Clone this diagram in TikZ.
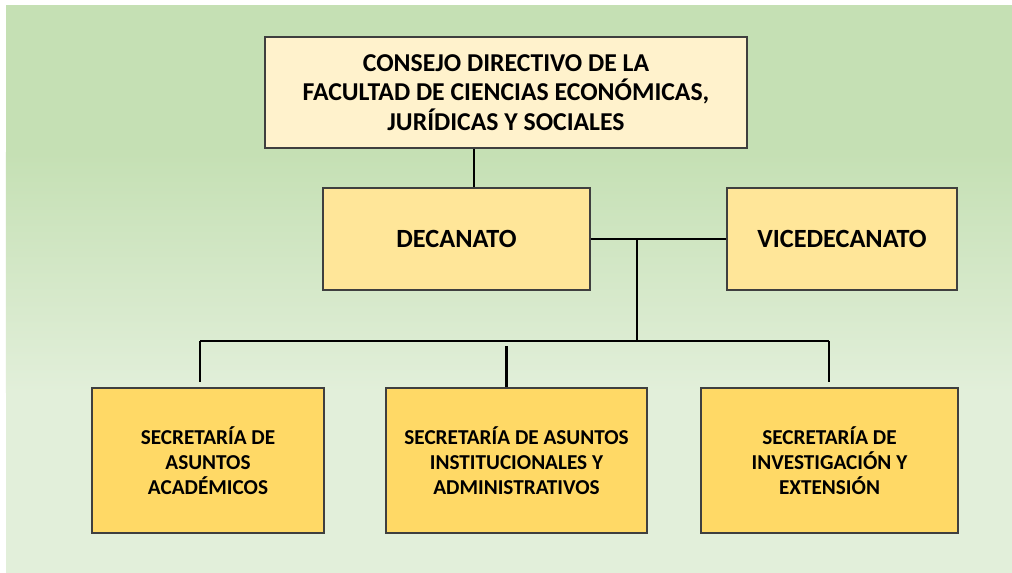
\documentclass[tikz,border=0pt]{standalone}
\usepackage{fontspec}
\setmainfont{Carlito}
\usepackage{tikz}
\usetikzlibrary{calc}

\definecolor{bggreen}{HTML}{C5E0B4}
\definecolor{bglight}{HTML}{E2EFDA}
\definecolor{consejofill}{HTML}{FFF2CC}
\definecolor{decafill}{HTML}{FFE699}
\definecolor{secfill}{HTML}{FFD966}
\definecolor{boxline}{HTML}{3F3F3F}

\begin{document}
\begin{tikzpicture}[
	box/.style = {draw = boxline, line width = 0.8pt, align = center, inner sep = 0pt, font = \bfseries},
	topbox/.style = {box, fill = consejofill, minimum width = 12.05cm, minimum height = 2.775cm, font = \bfseries\fontsize{18.3}{21}\selectfont},
	midbox/.style = {box, fill = decafill, minimum height = 2.55cm, font = \bfseries\fontsize{18.7}{21}\selectfont},
	secbox/.style = {box, fill = secfill, minimum height = 3.625cm, font = \bfseries\fontsize{15.1}{17.8}\selectfont},
	link/.style = {line width = 2.1pt, black}
]

\useasboundingbox (0,0) rectangle (25.3,14.325);
\fill[white] (-0.3,-0.3) rectangle (25.6,14.6);
\fill[bggreen] (0.15,10.5) rectangle (25.6,14.2);
\shade[top color = bggreen, bottom color = bglight] (0.15,4.5) rectangle (25.6,10.5);
\fill[bglight] (0.15,-0.3) rectangle (25.6,4.5);

\node[topbox] (consejo) at (12.65,12.0125) {CONSEJO DIRECTIVO DE LA\\FACULTAD DE CIENCIAS ECONÓMICAS,\\JURÍDICAS Y SOCIALES};
\node[midbox, minimum width = 6.675cm] (decanato) at (11.4125,8.35) {DECANATO};
\node[midbox, minimum width = 5.75cm] (vicedecanato) at (21.05,8.35) {VICEDECANATO};

\node[secbox, minimum width = 5.8cm] (academicos) at (5.2,2.8125) {SECRETARÍA DE\\ASUNTOS\\ACADÉMICOS};
\node[secbox, minimum width = 6.525cm] (institucionales) at (12.9125,2.8125) {SECRETARÍA DE ASUNTOS\\INSTITUCIONALES Y\\ADMINISTRATIVOS};
\node[secbox, minimum width = 6.425cm] (investigacion) at (20.7375,2.8125) {SECRETARÍA DE\\INVESTIGACIÓN Y\\EXTENSIÓN};

\coordinate (union) at (15.925,8.35);
\coordinate (bus) at (15.925,5.8);
\coordinate (busleft) at (5.0,5.8);
\coordinate (busright) at (20.725,5.8);

\draw[link] ([xshift = -0.8cm]consejo.south) -- ([xshift = -0.8cm]consejo.south |- decanato.north);
\draw[link] (decanato.east) -- (vicedecanato.west);
\draw[link] (union) -- (bus);
\draw[link] (busleft) -- (busright);
\draw[link] (busleft) -- ($(busleft |- academicos.north)+(0,0.125)$);
\draw[link] ($(institucionales.north)+(-0.24,1.025)$) -- ([xshift = -0.24cm]institucionales.north);
\draw[link] (busright) -- ($(busright |- investigacion.north)+(0,0.125)$);
\end{tikzpicture}
\end{document}
